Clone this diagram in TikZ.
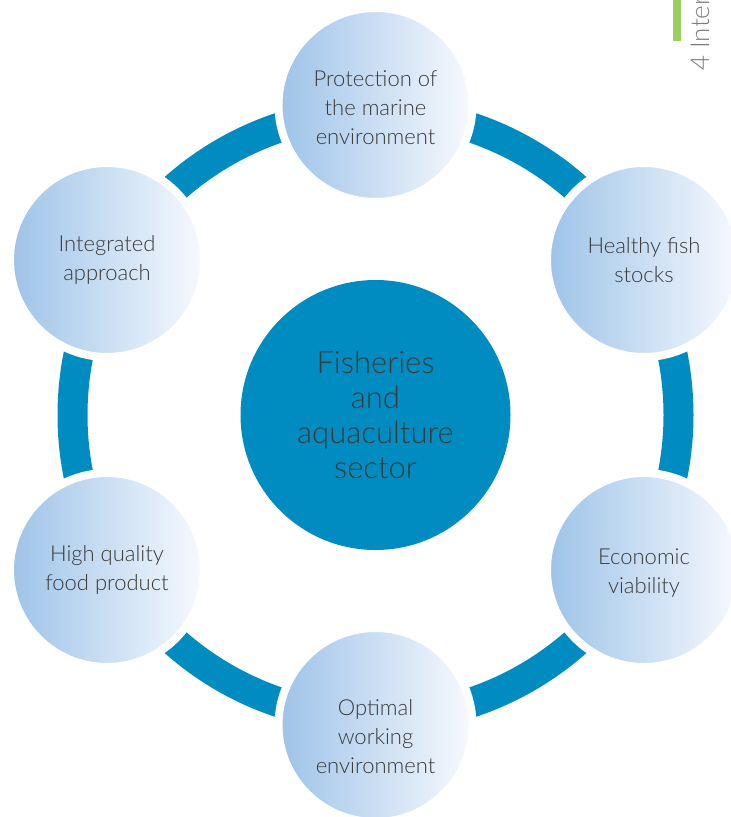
\documentclass[tikz,border=0pt]{standalone}
\usepackage{fontspec}
\setmainfont{Lato}[UprightFont={* Light}]
\definecolor{seablue}{RGB}{0,140,193}
\definecolor{paleblue}{RGB}{157,195,232}
\definecolor{mist}{RGB}{248,250,254}
\definecolor{inkgray}{RGB}{58,58,58}
\definecolor{tabgreen}{RGB}{155,208,96}
\definecolor{tabgray}{RGB}{125,125,125}
\begin{document}
\begin{tikzpicture}[x=1pt,y=-1pt,
  goal/.style={circle, minimum size=194pt, inner sep=0pt,
    left color=paleblue, right color=mist, draw=white, line width=8pt,
    align=center, text=inkgray, font=\fontsize{22}{29}\selectfont},
  hub/.style={circle, minimum size=270pt, inner sep=0pt, fill=seablue,
    align=center, text=inkgray, font=\fontsize{31}{35}\selectfont},
  ring/.style={draw=seablue, line width=30pt}]
\useasboundingbox (0,0) rectangle (731,817);
\clip (0,0) rectangle (731,817);

% connecting ring behind the six goals
\coordinate (C) at (375.5,415);
\draw[ring] (C) circle[radius=303];

% six goals around the hub
\node[goal] (prot) at (375.5,105) {\rule{0pt}{22pt}Protection of\\the marine\\environment};
\node[goal] (fish) at (644,260) {Healthy fish\\stocks};
\node[goal] (econ) at (644,570) {\rule{0pt}{22pt}Economic\\viability};
\node[goal] (work) at (375.5,725) {\rule{0pt}{40pt}Optimal\\working\\environment};
\node[goal] (food) at (107,570) {High quality\\food product};
\node[goal] (integ) at (107,260) {Integrated\\approach};

% hub
\node[hub] (sector) at (C) {Fisheries\\and\\aquaculture\\sector};

% chapter tab
\fill[tabgreen] (673,0) rectangle (681,41);
\node[rotate=90, anchor=base west, inner sep=0pt, text=tabgray,
  font=\fontsize{26}{26}\selectfont] (tab) at (709,71) {4 Inter};
\end{tikzpicture}
\end{document}
